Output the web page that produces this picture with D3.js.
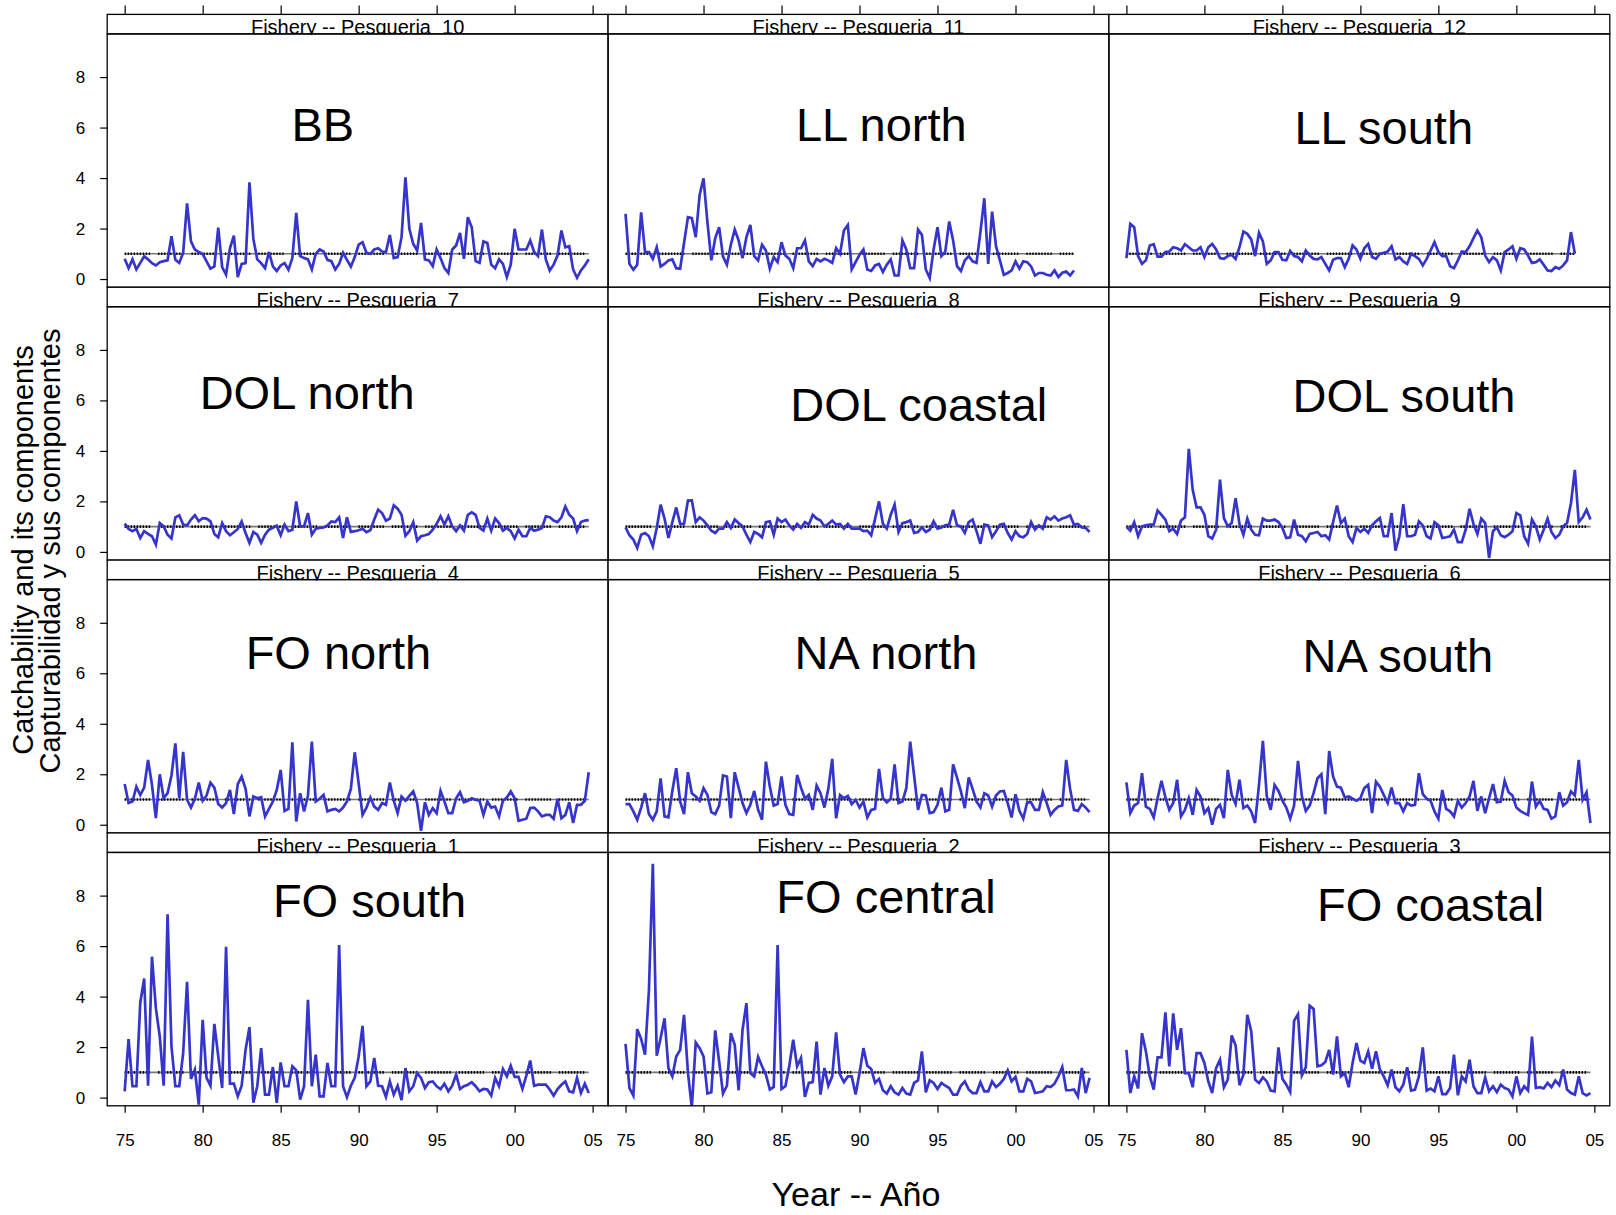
<!DOCTYPE html>
<html>
<head>
<meta charset="utf-8">
<script src="https://cdn.jsdelivr.net/npm/d3@7"></script>
<style>
  html, body { margin: 0; padding: 0; background: #fff; }
  svg { display: block; font-family: "Liberation Sans", Arial, Helvetica, sans-serif; }
</style>
</head>
<body>
<svg id="chart" width="1616" height="1215"></svg>
<script>
// ---------------- DATA ----------------
const startYear = 1975;
const tickYears = [1975, 1980, 1985, 1990, 1995, 2000, 2005];
const tickLabels = ["75", "80", "85", "90", "95", "00", "05"];
const yTicks = [0, 2, 4, 6, 8];
const refValue = 1;

const fisheryNumbers = [10, 11, 12, 7, 8, 9, 4, 5, 6, 1, 2, 3];
const fisheryNames = ["BB", "LL north", "LL south", "DOL north", "DOL coastal", "DOL south",
                      "FO north", "NA north", "NA south", "FO south", "FO central", "FO coastal"];
// label centre in data units [year, value]
const labelYear  = [1987.7, 1991.4, 1991.5, 1986.7, 1993.8, 1992.8, 1988.7, 1991.7, 1992.4, 1990.7, 1991.7, 1994.5];
const labelValue = [6.12, 6.12, 6.0, 6.33, 5.84, 6.21, 6.82, 6.82, 6.69, 7.79, 7.96, 7.63];

// quarterly series starting 1975 Q1
const bb = [0.8,0.43,0.78,0.38,0.64,0.9,0.78,0.63,0.54,0.67,0.71,0.74,1.7,0.76,0.64,1.04,3.0,1.49,1.17,1.07,0.99,0.7,0.41,0.5,2.04,0.47,0.17,1.22,1.72,0.08,0.6,0.63,3.83,1.59,0.78,0.63,0.43,1.07,0.5,0.32,0.54,0.63,0.37,0.83,2.62,0.91,0.83,0.78,0.38,1.0,1.17,1.09,0.76,0.71,0.38,0.6,1.04,0.76,0.49,0.87,1.36,1.46,1.04,1.0,1.17,1.22,1.09,1.07,1.75,0.83,0.87,1.66,4.03,1.99,1.39,1.13,2.22,0.78,0.74,0.51,1.17,0.83,0.43,0.24,1.17,1.33,1.83,0.8,2.45,2.05,0.71,0.64,1.49,1.43,0.57,0.43,0.78,0.6,0.08,0.57,1.99,1.17,1.17,1.17,1.53,1.07,0.91,1.96,0.78,0.34,0.57,0.93,1.92,1.26,1.3,0.38,0.05,0.34,0.54,0.78];
const llNorth = [2.58,0.6,0.37,0.57,2.64,1.07,1.07,0.8,1.26,0.5,0.6,0.74,0.78,0.43,0.41,1.43,2.45,2.41,1.66,3.33,3.99,2.25,0.74,1.62,2.05,0.89,0.57,1.36,1.96,1.53,0.83,1.66,2.14,0.91,0.74,1.36,1.13,0.41,0.87,0.67,1.46,0.93,0.8,0.43,1.22,1.22,1.53,0.7,0.51,0.8,0.7,0.8,0.74,0.64,1.22,1.0,1.92,2.14,0.38,0.67,0.96,1.17,0.38,0.32,0.54,0.6,0.28,0.57,0.78,0.14,0.14,1.53,1.17,0.43,0.43,1.96,1.75,0.38,0.04,1.17,2.05,0.91,1.09,2.28,1.53,0.51,0.32,0.74,0.91,0.7,0.64,1.86,3.2,0.6,2.67,1.3,0.74,0.17,0.24,0.34,0.7,0.41,0.7,0.67,0.5,0.14,0.24,0.24,0.17,0.14,0.34,0.08,0.25,0.3,0.14,0.34];
const llSouth = [0.83,2.18,2.05,0.91,0.6,0.74,1.33,1.38,0.89,0.89,1.07,1.09,1.26,1.22,1.13,1.38,1.26,1.13,1.13,1.26,0.87,1.26,1.39,1.17,0.83,0.8,0.91,0.96,0.8,1.26,1.88,1.79,1.57,0.91,1.83,1.49,0.6,0.74,1.07,1.07,0.76,0.74,1.11,0.91,0.87,0.7,1.13,0.93,0.8,0.78,0.87,0.6,0.34,0.76,0.83,0.83,0.47,0.8,1.33,1.17,0.8,1.22,1.39,0.87,0.8,1.0,1.04,1.09,1.3,0.78,0.87,0.7,0.6,1.0,0.91,0.8,0.54,0.8,1.13,1.46,1.07,0.91,0.91,0.51,0.43,0.74,1.09,1.07,1.3,1.62,1.92,1.66,0.93,0.67,0.87,0.74,0.34,1.07,1.17,1.3,0.8,1.22,1.17,0.93,0.64,0.67,0.78,0.57,0.34,0.32,0.47,0.41,0.54,0.74,1.86,1.0];
const dolNorth = [1.12,0.91,0.82,0.91,0.55,0.82,0.71,0.62,0.29,1.14,1.01,0.68,0.53,1.37,1.45,1.08,1.05,1.28,1.45,1.21,1.34,1.32,1.21,0.71,0.58,1.14,0.82,0.66,0.78,0.91,1.21,0.75,0.36,0.79,0.68,0.36,0.68,0.88,0.95,1.04,0.66,1.08,0.82,0.88,2.0,1.01,1.01,1.54,0.68,0.92,0.95,0.97,1.05,1.21,1.18,1.37,0.55,1.37,0.79,0.82,0.86,0.92,0.78,0.86,1.28,1.67,1.54,1.24,1.32,1.84,1.71,1.47,0.64,0.82,1.18,0.45,0.62,0.66,0.71,0.88,1.11,1.41,1.08,1.41,1.01,0.82,1.05,0.84,1.47,1.57,1.47,0.95,0.84,1.32,0.84,1.32,1.14,0.84,0.95,0.82,0.53,0.88,0.62,0.62,0.95,0.84,0.88,0.95,1.41,1.37,1.24,1.18,1.37,1.8,1.47,1.32,0.82,1.18,1.24,1.26];
const dolCoastal = [0.97,0.66,0.49,0.16,0.68,0.75,0.62,0.22,0.95,1.87,1.32,0.55,1.18,1.76,1.11,1.11,2.03,2.04,1.18,1.37,1.24,1.05,0.84,0.75,0.92,0.92,1.18,0.95,1.28,1.14,1.01,0.68,0.39,0.79,0.71,0.58,1.18,1.21,0.68,1.32,1.18,1.28,1.05,0.88,1.11,0.95,1.18,1.08,1.47,1.32,1.24,1.01,1.11,1.24,1.08,1.11,0.92,1.11,0.92,0.92,0.92,0.82,0.84,0.66,1.32,2.0,1.11,0.92,1.47,1.87,0.79,1.14,1.18,1.24,0.75,0.79,0.97,0.79,0.88,1.21,0.92,0.97,1.05,1.08,1.67,1.05,1.01,0.75,1.18,1.28,0.82,0.32,1.08,1.05,0.58,0.82,1.08,1.11,0.75,0.49,0.82,0.62,0.58,0.71,1.18,0.88,1.05,0.92,1.37,1.28,1.41,1.24,1.32,1.37,1.45,1.08,1.11,0.97,0.95,0.79];
const dolSouth = [0.99,0.84,1.18,0.62,1.01,1.05,1.08,1.08,1.64,1.47,1.28,0.82,0.92,0.71,1.24,1.37,4.08,2.46,1.76,1.76,1.47,0.62,0.53,0.88,2.86,1.34,1.01,1.14,2.13,1.11,0.68,1.32,0.88,0.68,0.66,1.32,1.24,1.24,1.28,1.18,0.95,0.55,0.58,1.28,0.68,0.62,0.42,0.71,0.75,0.79,0.62,0.66,0.49,1.18,1.84,1.14,1.32,0.62,0.39,0.95,0.79,0.92,0.75,1.05,1.21,1.34,0.62,0.62,1.54,0.05,0.62,1.89,0.62,0.62,0.68,1.21,1.05,0.62,0.53,1.18,1.05,0.55,0.58,0.62,0.88,0.39,0.39,0.88,1.71,1.11,0.71,1.32,1.14,-0.24,0.82,0.97,0.66,0.58,0.68,0.82,1.54,1.45,0.62,0.32,1.28,1.01,0.49,0.88,1.32,0.79,0.55,0.68,1.01,1.14,1.93,3.25,1.18,1.37,1.67,1.28];
const foNorth = [1.61,0.86,0.92,1.51,1.18,1.47,2.57,1.58,0.26,2.0,1.05,1.25,1.95,3.22,1.05,2.89,0.99,0.68,1.03,1.67,0.95,1.16,1.67,1.47,0.82,0.68,0.86,1.38,0.42,1.61,1.91,1.42,0.33,1.12,1.05,1.09,0.33,0.63,0.92,1.38,2.17,0.55,0.63,3.26,0.13,1.25,0.53,1.16,3.29,0.92,1.03,1.18,0.53,0.59,0.63,0.53,0.68,0.92,1.42,2.87,1.64,0.39,0.68,1.08,0.72,0.59,0.86,0.79,1.67,0.95,0.46,1.12,0.95,1.14,1.32,0.86,-0.24,0.89,0.39,0.66,0.46,1.34,0.92,0.46,0.46,1.05,1.29,0.89,0.95,1.05,0.99,0.95,0.39,0.92,0.68,0.72,0.33,0.95,1.08,1.32,1.05,0.16,0.2,0.24,0.66,0.68,0.53,0.33,0.39,0.39,0.24,1.03,0.26,0.39,0.89,0.07,0.79,0.79,0.95,2.08];
const naNorth = [0.82,0.82,0.53,0.2,0.68,1.25,0.42,0.2,0.53,1.84,0.33,0.29,1.34,2.24,0.92,0.42,2.08,1.25,1.12,0.95,1.45,1.18,0.5,0.42,0.76,1.95,1.91,0.26,2.08,1.47,0.86,0.46,0.79,1.34,0.59,0.2,2.5,1.51,0.76,0.82,1.91,0.79,0.42,0.39,1.97,1.47,1.03,1.18,0.59,1.55,1.25,0.68,1.42,2.61,0.26,1.18,1.05,1.14,0.82,0.99,0.68,0.92,0.29,0.59,0.63,2.21,1.05,0.89,1.03,2.39,0.86,0.92,1.45,3.29,1.95,0.59,1.18,1.16,0.46,0.5,0.79,1.47,0.53,0.59,2.39,1.87,1.32,0.66,1.87,1.42,0.92,0.68,1.25,1.16,0.72,1.16,1.32,1.34,0.86,0.29,1.21,0.55,0.24,0.89,0.89,0.59,0.59,1.29,0.86,0.39,0.59,0.72,0.76,2.57,1.42,0.59,0.55,0.82,0.68,0.5];
const naSouth = [1.68,0.46,0.76,0.86,2.04,0.72,0.63,0.29,1.05,1.74,1.08,0.59,0.86,1.78,0.33,0.59,1.05,0.39,1.38,1.12,0.46,0.66,0.0,0.63,0.79,0.26,2.17,1.18,0.82,1.78,0.66,0.76,0.53,0.07,1.58,3.32,1.12,0.59,1.58,1.34,0.95,0.68,0.24,0.76,2.53,1.12,0.55,0.76,1.25,1.84,2.0,0.42,2.92,1.91,1.51,1.47,1.08,1.12,1.03,0.95,1.05,1.45,1.58,0.46,1.71,1.51,1.18,0.86,1.47,0.86,0.86,0.53,0.86,0.76,0.79,2.04,1.21,1.03,0.95,0.53,0.24,1.38,0.63,0.53,0.33,0.95,0.68,0.86,1.12,1.74,0.55,1.12,0.46,1.05,1.61,0.89,0.92,1.74,1.29,1.16,0.68,0.55,0.46,0.39,1.71,0.72,0.95,0.63,0.59,0.24,0.33,1.29,0.76,0.89,1.32,1.16,2.57,0.99,1.29,0.07];
const foSouth = [0.25,2.32,0.45,0.45,3.76,4.72,0.47,5.58,3.54,2.42,0.47,7.26,2.03,0.45,0.45,1.76,4.59,0.74,1.11,-0.28,3.08,0.78,0.47,2.92,1.63,0.38,5.97,0.55,0.55,0.05,0.47,1.89,2.79,-0.2,0.45,1.96,0.12,0.12,1.21,-0.21,1.39,0.45,0.45,1.24,1.08,-0.08,0.45,3.87,0.45,1.7,0.05,0.05,1.37,0.45,0.45,6.04,0.45,0.02,0.47,0.78,1.63,2.84,0.45,0.64,1.57,0.47,0.45,0.03,0.64,0.12,0.47,-0.1,1.17,0.25,0.45,0.97,0.78,0.38,0.61,0.64,0.45,0.34,0.55,0.25,0.47,0.91,0.34,0.45,0.51,0.61,0.45,0.25,0.34,0.32,0.08,0.78,0.45,1.13,0.84,1.26,0.82,0.82,0.34,0.87,1.47,0.47,0.51,0.51,0.51,0.32,0.08,0.34,0.51,0.64,0.25,0.21,0.78,0.18,0.55,0.18];
const foCentral = [2.13,0.38,0.08,2.71,2.32,1.7,4.26,9.26,1.66,2.36,3.14,1.17,0.84,1.63,1.89,3.28,1.0,-0.41,2.18,1.96,1.63,0.16,0.21,2.66,1.43,0.16,0.47,2.55,2.09,0.29,2.68,3.74,0.97,0.84,1.61,1.24,0.91,0.32,0.42,6.04,0.34,0.45,1.26,2.29,1.24,1.57,0.03,0.58,0.61,2.22,0.12,1.17,0.47,0.84,2.58,0.91,0.61,0.84,0.84,0.12,0.97,1.96,1.26,1.13,0.58,0.74,0.29,0.16,0.45,0.21,0.12,0.38,0.16,0.12,0.58,0.68,1.83,0.21,0.68,0.58,0.34,0.58,0.47,0.38,0.12,0.12,0.47,0.64,0.32,0.18,0.18,0.61,0.25,0.25,0.64,0.42,0.55,0.74,1.08,0.64,0.82,0.25,0.25,0.74,0.64,0.18,0.21,0.25,0.45,0.42,0.55,0.84,1.21,0.29,0.29,0.32,0.05,1.17,0.18,0.78];
const foCoastal = [1.89,0.18,0.84,0.36,2.55,1.83,0.84,0.32,1.59,1.59,3.38,1.24,3.34,1.89,2.75,0.97,0.97,0.41,1.76,1.76,1.37,0.64,0.18,1.17,1.5,0.41,0.71,2.46,2.07,0.49,0.91,3.28,2.64,0.71,0.58,0.8,0.64,0.28,0.25,1.99,0.75,0.51,0.22,3.04,3.3,0.88,1.2,3.64,3.51,1.24,1.28,1.41,1.89,0.91,2.42,0.84,0.97,0.41,1.37,2.16,1.46,1.37,1.83,1.14,1.83,1.11,0.84,0.49,1.11,0.41,0.25,0.51,1.2,0.28,0.32,0.84,1.99,0.28,0.36,0.25,0.84,0.14,0.14,0.38,1.7,0.09,0.84,0.64,1.5,0.45,0.18,0.18,0.8,0.25,0.45,0.22,0.51,0.38,0.32,0.05,0.84,0.18,0.45,0.28,2.42,0.38,0.41,0.36,0.58,0.41,0.67,0.49,1.11,0.32,0.18,0.12,0.84,0.18,0.09,0.18];

const seriesList = [bb, llNorth, llSouth, dolNorth, dolCoastal, dolSouth,
                    foNorth, naNorth, naSouth, foSouth, foCentral, foCoastal];

// ---------------- LAYOUT ----------------
const W = 1616, H = 1215;
const gridLeft = 107.2, gridRight = 1609.8, gridTop = 14.4, gridBottom = 1105.8;
const nCols = 3, nRows = 4;
const colW = (gridRight - gridLeft) / nCols;
const rowH = (gridBottom - gridTop) / nRows;
const stripH = 19.5;
const xDomain = [1973.88, 2005.99];
const yDomain = [-0.325, 9.71];
const lineColor = "#3535cc";
const font = '"Liberation Sans", Arial, Helvetica, sans-serif';

const svg = d3.select("#chart");
svg.append("rect").attr("width", W).attr("height", H).attr("fill", "#fff");

const defs = svg.append("defs");

// reference-line dash: clusters of dots with gaps
const dashPattern = d3.range(9).flatMap(() => [1.4, 1.6]).slice(0, -1).concat([8.0]).join(",");

fisheryNumbers.forEach((num, k) => {
  const col = k % nCols, row = Math.floor(k / nCols);
  const x0 = gridLeft + col * colW;
  const y0 = gridTop + row * rowH;
  const plotTop = y0 + stripH;
  const plotBottom = y0 + rowH;

  const x = d3.scaleLinear().domain(xDomain).range([x0, x0 + colW]);
  const y = d3.scaleLinear().domain(yDomain).range([plotBottom, plotTop]);

  const g = svg.append("g");

  // clips
  const clipId = "clip" + k;
  defs.append("clipPath").attr("id", clipId)
    .append("rect").attr("x", x0).attr("y", plotTop).attr("width", colW).attr("height", plotBottom - plotTop);
  const stripClipId = "sclip" + k;
  defs.append("clipPath").attr("id", stripClipId)
    .append("rect").attr("x", x0).attr("y", y0).attr("width", colW).attr("height", stripH + 0.8);

  const series = seriesList[k];
  const pts = series.map((v, i) => [startYear + i / 4, v]);

  // panel label
  g.append("text")
    .attr("x", x(labelYear[k])).attr("y", y(labelValue[k]))
    .attr("text-anchor", "middle").attr("dominant-baseline", "central")
    .attr("font-family", font).attr("font-size", 47).attr("fill", "#000")
    .text(fisheryNames[k]);

  const cg = g.append("g").attr("clip-path", `url(#${clipId})`);

  // reference line at 1
  const xStart = x(pts[0][0]), xEnd = x(pts[pts.length - 1][0]);
  cg.append("line")
    .attr("x1", xStart).attr("x2", xEnd).attr("y1", y(refValue)).attr("y2", y(refValue))
    .attr("stroke", "#777").attr("stroke-width", 1.6);
  cg.append("line")
    .attr("x1", xStart).attr("x2", xEnd).attr("y1", y(refValue)).attr("y2", y(refValue))
    .attr("stroke", "#000").attr("stroke-width", 2.6).attr("stroke-dasharray", dashPattern);

  // series line
  const line = d3.line().x(d => x(d[0])).y(d => y(d[1]));
  cg.append("path").datum(pts)
    .attr("d", line)
    .attr("fill", "none").attr("stroke", lineColor).attr("stroke-width", 2.7)
    .attr("stroke-linejoin", "miter").attr("stroke-miterlimit", 4);

  // strip
  g.append("rect").attr("x", x0).attr("y", y0).attr("width", colW).attr("height", stripH)
    .attr("fill", "#fff").attr("stroke", "#000").attr("stroke-width", 1.3);
  g.append("g").attr("clip-path", `url(#${stripClipId})`)
    .append("text")
    .attr("x", x0 + colW / 2).attr("y", y0 + stripH + 0.5)
    .attr("text-anchor", "middle").attr("font-family", font).attr("font-size", 20)
    .attr("fill", "#000").style("white-space", "pre")
    .text("Fishery -- Pesqueria  " + num);

  // plot frame
  g.append("rect").attr("x", x0).attr("y", plotTop).attr("width", colW).attr("height", plotBottom - plotTop)
    .attr("fill", "none").attr("stroke", "#000").attr("stroke-width", 1.3);

  // axes
  if (col === 0) {
    const ax = g.append("g").attr("transform", `translate(${x0},0)`)
      .call(d3.axisLeft(y).tickValues(yTicks).tickFormat(d3.format("d")).tickSize(7).tickPadding(15));
    ax.select(".domain").remove();
    ax.selectAll("text").attr("font-family", font).attr("font-size", 17).attr("fill", "#000");
    ax.selectAll("line").attr("stroke", "#000").attr("stroke-width", 1.2);
  }
  if (row === nRows - 1) {
    const ax = g.append("g").attr("transform", `translate(0,${plotBottom})`)
      .call(d3.axisBottom(x).tickValues(tickYears).tickFormat((d, i) => tickLabels[i]).tickSize(7).tickPadding(21));
    ax.select(".domain").remove();
    ax.selectAll("text").attr("font-family", font).attr("font-size", 17).attr("fill", "#000");
    ax.selectAll("line").attr("stroke", "#000").attr("stroke-width", 1.2);
  }
  if (row === 0) {
    const ax = g.append("g").attr("transform", `translate(0,${y0})`)
      .call(d3.axisTop(x).tickValues(tickYears).tickFormat("").tickSize(9));
    ax.select(".domain").remove();
    ax.selectAll("line").attr("stroke", "#000").attr("stroke-width", 1.2);
  }
});

// axis titles
svg.append("text")
  .attr("transform", "translate(23,550) rotate(-90)")
  .attr("text-anchor", "middle").attr("dominant-baseline", "central")
  .attr("font-family", font).attr("font-size", 29).attr("fill", "#000")
  .text("Catchability and its components");
svg.append("text")
  .attr("transform", "translate(50,551) rotate(-90)")
  .attr("text-anchor", "middle").attr("dominant-baseline", "central")
  .attr("font-family", font).attr("font-size", 29).attr("fill", "#000")
  .text("Capturabilidad y sus componentes");

svg.append("text")
  .attr("x", 856).attr("y", 1206)
  .attr("text-anchor", "middle")
  .attr("font-family", font).attr("font-size", 34).attr("fill", "#000")
  .text("Year -- Año");
</script>
</body>
</html>
